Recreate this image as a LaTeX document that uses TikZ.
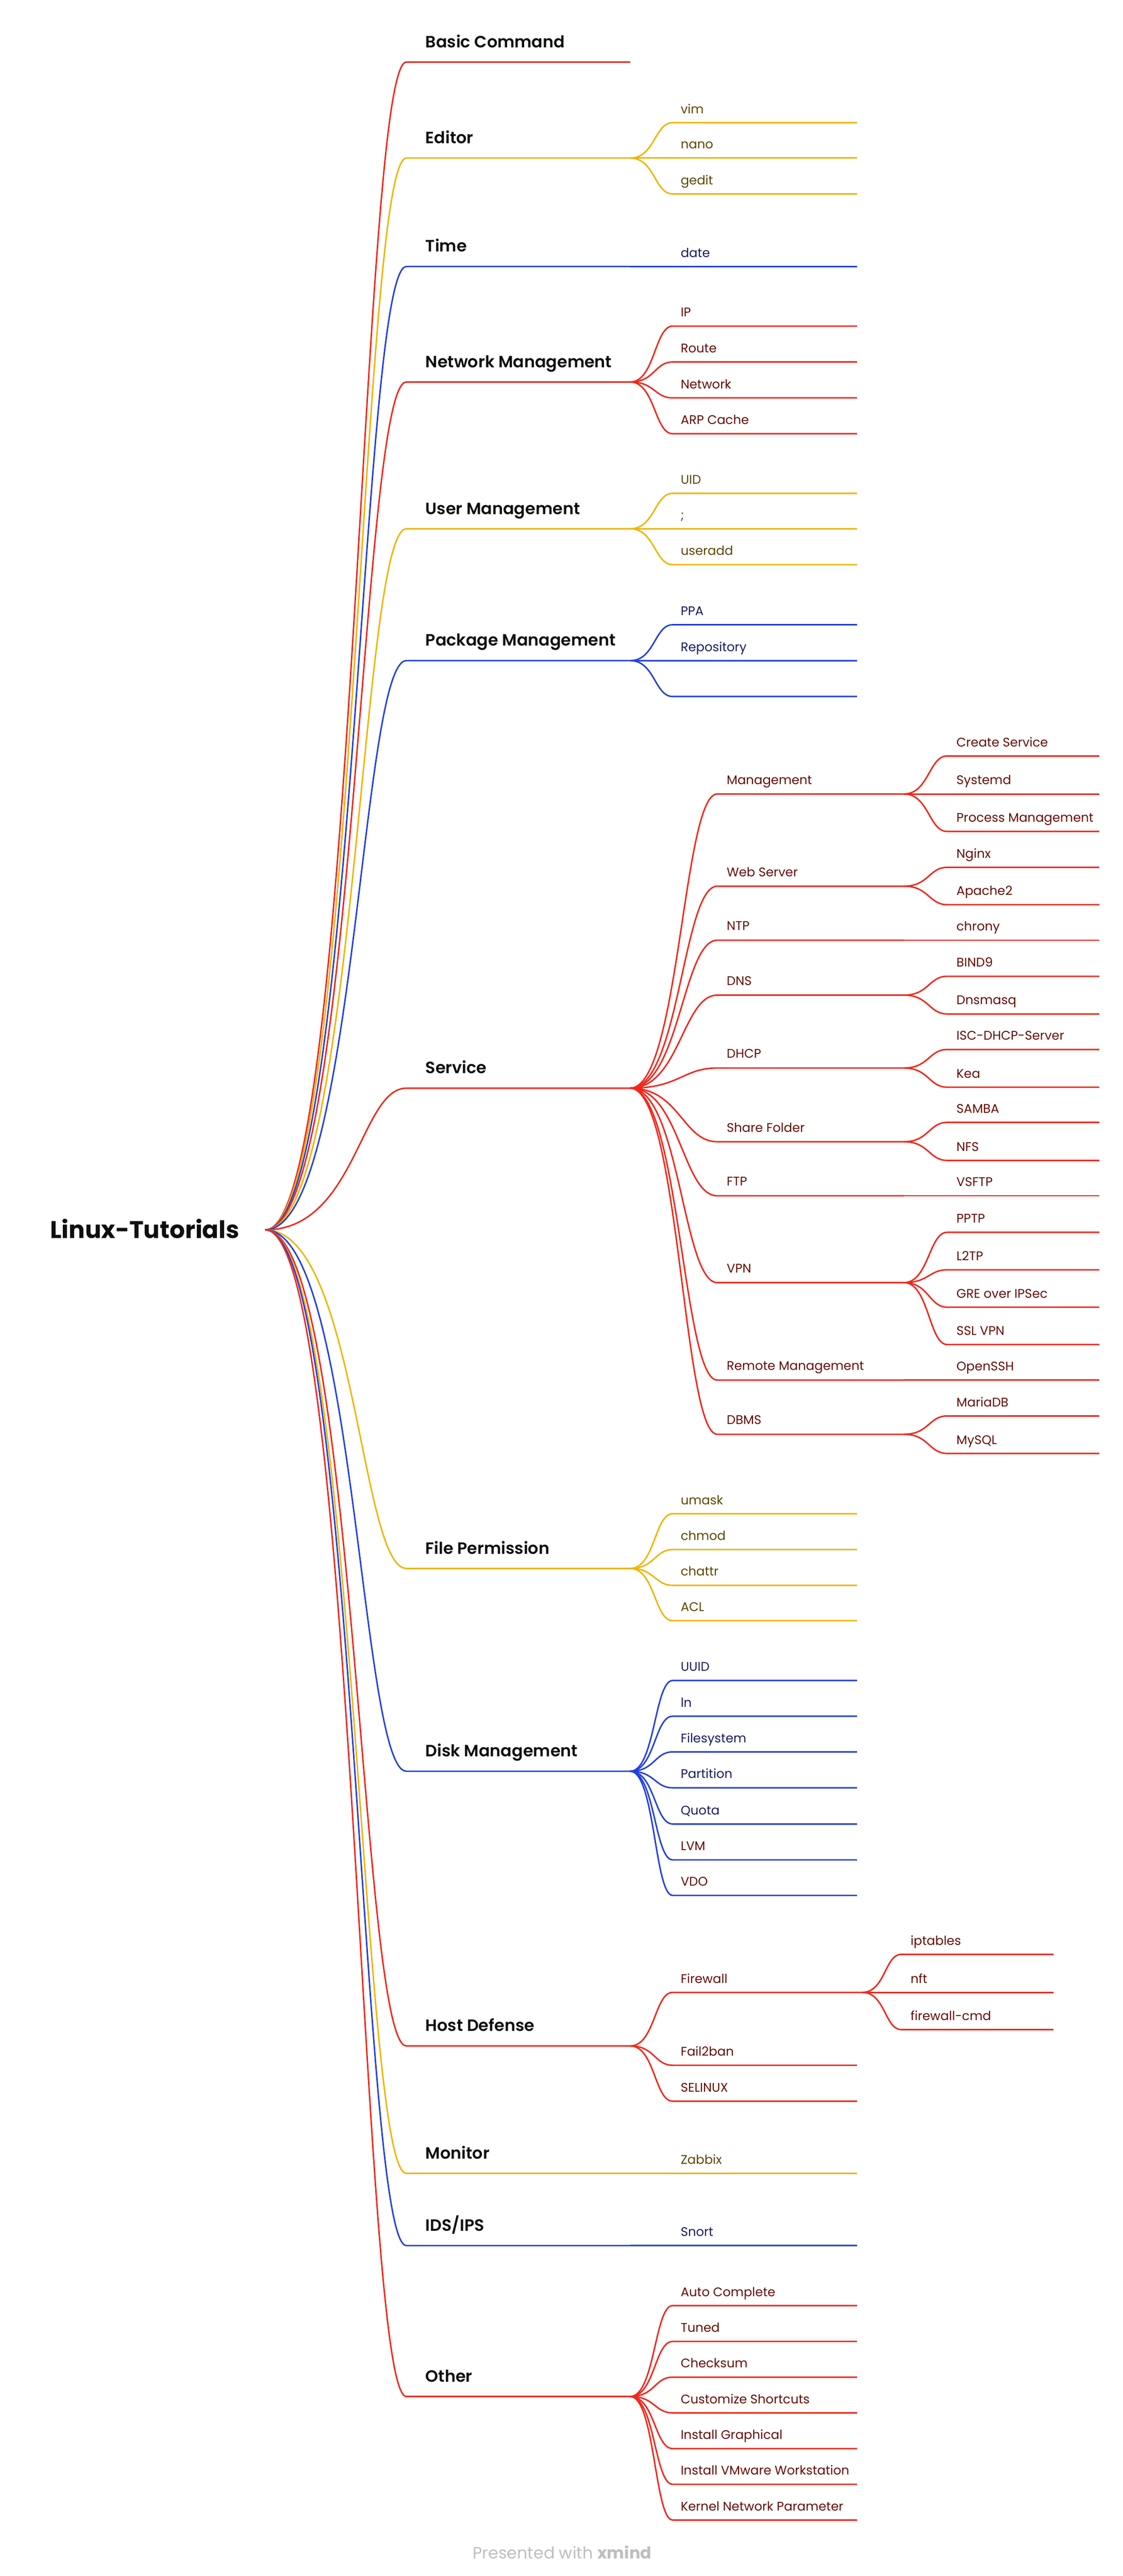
\documentclass[tikz,border=0pt]{standalone}
\usepackage{fontspec}
\setmainfont{Poppins}
\newfontfamily\topicfont{Poppins SemiBold}
\usepackage{tikz}
\usepackage{xcolor}

\definecolor{lnred}{RGB}{240,40,28}
\definecolor{lnyellow}{RGB}{240,180,0}
\definecolor{lnblue}{RGB}{36,64,220}
\definecolor{inkred}{RGB}{100,12,6}
\definecolor{inkyellow}{RGB}{92,70,0}
\definecolor{inkblue}{RGB}{22,28,96}
\definecolor{inktopic}{RGB}{15,15,15}
\definecolor{inkfoot}{RGB}{190,190,190}

\begin{document}
\begin{tikzpicture}[x=1pt, y=-1pt,
    link/.style={line width=0.9pt},
    rlink/.style={link, draw=lnred},
    ylink/.style={link, draw=lnyellow},
    blink/.style={link, draw=lnblue},
    rootlabel/.style={anchor=base west, inner sep=0pt, text=inktopic, font=\fontsize{14.7}{17}\selectfont\bfseries},
    topic/.style={anchor=base west, inner sep=0pt, text=inktopic, font=\fontsize{10}{12}\topicfont},
    leaf/.style={anchor=base west, inner sep=0pt, font=\fontsize{7.65}{9}\selectfont},
    rleaf/.style={leaf, text=inkred},
    yleaf/.style={leaf, text=inkyellow},
    bleaf/.style={leaf, text=inkblue},
    footer/.style={anchor=base, inner sep=0pt, text=inkfoot, font=\fontsize{10}{12}\selectfont}]

    % Canvas
    \useasboundingbox (0,0) rectangle (685.04,1572.6);

    % Column ends
    \coordinate (topicend) at (384.6,0);
    \coordinate (leafend) at (523,0);
    \coordinate (svcmid) at (551.7,0);
    \coordinate (svcleafend) at (670.8,0);
    \coordinate (fwmid) at (526.2,0);
    \coordinate (fwleafend) at (642.8,0);

    % Root
    \node[rootlabel] (root) at (30.5,756) {Linux-Tutorials};
    \coordinate (hub) at (161.9,750.8);

    % Basic Command
    \coordinate (basic-a) at (248,37.9);
    \node[topic] (basic) at ([shift={(11.5,-8.9)}]basic-a) {Basic Command};
    \draw[rlink] (hub) .. controls +(55,0) and +(-28,0) .. (basic-a) -- (basic-a -| topicend);

    % Editor
    \coordinate (editor-a) at (248,96.5);
    \node[topic] (editor) at ([shift={(11.5,-8.9)}]editor-a) {Editor};
    \draw[ylink] (hub) .. controls +(55,0) and +(-28,0) .. (editor-a) -- (editor-a -| topicend) coordinate (editor-j);
    \coordinate (vim-a) at (410.5,74.9);    \node[yleaf] (vim) at ([shift={(4.7,-5.7)}]vim-a) {vim};
    \coordinate (nano-a) at (410.5,96.5);   \node[yleaf] (nano) at ([shift={(4.7,-5.7)}]nano-a) {nano};
    \coordinate (gedit-a) at (410.5,118.4); \node[yleaf] (gedit) at ([shift={(4.7,-5.7)}]gedit-a) {gedit};
    \draw[ylink] (editor-j) .. controls +(15,0) and +(-11,0) .. (vim-a) -- (vim-a -| leafend);
    \draw[ylink] (editor-j) -- (nano-a) -- (nano-a -| leafend);
    \draw[ylink] (editor-j) .. controls +(15,0) and +(-11,0) .. (gedit-a) -- (gedit-a -| leafend);

    % Time
    \coordinate (time-a) at (248,162.7);
    \node[topic] (time) at ([shift={(11.5,-8.9)}]time-a) {Time};
    \draw[blink] (hub) .. controls +(55,0) and +(-28,0) .. (time-a) -- (time-a -| topicend) coordinate (time-j);
    \coordinate (date-a) at (410.5,162.7);  \node[bleaf] (date) at ([shift={(4.7,-5.7)}]date-a) {date};
    \draw[blink] (time-j) -- (date-a) -- (date-a -| leafend);

    % Network Management
    \coordinate (net-a) at (248,233.2);
    \node[topic] (net) at ([shift={(11.5,-8.9)}]net-a) {Network Management};
    \draw[rlink] (hub) .. controls +(55,0) and +(-28,0) .. (net-a) -- (net-a -| topicend) coordinate (net-j);
    \coordinate (ip-a) at (410.5,199.1);      \node[rleaf] (ip) at ([shift={(4.7,-5.7)}]ip-a) {IP};
    \coordinate (route-a) at (410.5,221);     \node[rleaf] (route) at ([shift={(4.7,-5.7)}]route-a) {Route};
    \coordinate (network-a) at (410.5,242.9); \node[rleaf] (network) at ([shift={(4.7,-5.7)}]network-a) {Network};
    \coordinate (arp-a) at (410.5,264.8);     \node[rleaf] (arp) at ([shift={(4.7,-5.7)}]arp-a) {ARP Cache};
    \draw[rlink] (net-j) .. controls +(15,0) and +(-11,0) .. (ip-a) -- (ip-a -| leafend);
    \draw[rlink] (net-j) .. controls +(15,0) and +(-11,0) .. (route-a) -- (route-a -| leafend);
    \draw[rlink] (net-j) .. controls +(15,0) and +(-11,0) .. (network-a) -- (network-a -| leafend);
    \draw[rlink] (net-j) .. controls +(15,0) and +(-11,0) .. (arp-a) -- (arp-a -| leafend);

    % User Management
    \coordinate (user-a) at (248,322.8);
    \node[topic] (user) at ([shift={(11.5,-8.9)}]user-a) {User Management};
    \draw[ylink] (hub) .. controls +(55,0) and +(-28,0) .. (user-a) -- (user-a -| topicend) coordinate (user-j);
    \coordinate (uid-a) at (410.5,301.2);     \node[yleaf] (uid) at ([shift={(4.7,-5.7)}]uid-a) {UID};
    \coordinate (semi-a) at (410.5,322.8);    \node[yleaf] (semi) at ([shift={(4.7,-5.7)}]semi-a) {;};
    \coordinate (useradd-a) at (410.5,344.7); \node[yleaf] (useradd) at ([shift={(4.7,-5.7)}]useradd-a) {useradd};
    \draw[ylink] (user-j) .. controls +(15,0) and +(-11,0) .. (uid-a) -- (uid-a -| leafend);
    \draw[ylink] (user-j) -- (semi-a) -- (semi-a -| leafend);
    \draw[ylink] (user-j) .. controls +(15,0) and +(-11,0) .. (useradd-a) -- (useradd-a -| leafend);

    % Package Management
    \coordinate (pkg-a) at (248,403.3);
    \node[topic] (pkg) at ([shift={(11.5,-8.9)}]pkg-a) {Package Management};
    \draw[blink] (hub) .. controls +(55,0) and +(-28,0) .. (pkg-a) -- (pkg-a -| topicend) coordinate (pkg-j);
    \coordinate (ppa-a) at (410.5,381.4);  \node[bleaf] (ppa) at ([shift={(4.7,-5.7)}]ppa-a) {PPA};
    \coordinate (repo-a) at (410.5,403.3); \node[bleaf] (repo) at ([shift={(4.7,-5.7)}]repo-a) {Repository};
    \coordinate (blank-a) at (410.5,425.2);
    \draw[blink] (pkg-j) .. controls +(15,0) and +(-11,0) .. (ppa-a) -- (ppa-a -| leafend);
    \draw[blink] (pkg-j) -- (repo-a) -- (repo-a -| leafend);
    \draw[blink] (pkg-j) .. controls +(15,0) and +(-11,0) .. (blank-a) -- (blank-a -| leafend);

    % Service
    \coordinate (svc-a) at (248,664.3);
    \node[topic] (svc) at ([shift={(11.5,-8.9)}]svc-a) {Service};
    \draw[rlink] (hub) .. controls +(55,0) and +(-28,0) .. (svc-a) -- (svc-a -| topicend) coordinate (svc-j);
    \coordinate (mgmt-a) at (437.7,484.7);   \node[rleaf] (mgmt) at ([shift={(5.6,-6)}]mgmt-a) {Management};
    \coordinate (web-a) at (437.7,541);      \node[rleaf] (web) at ([shift={(5.6,-6)}]web-a) {Web Server};
    \coordinate (ntp-a) at (437.7,574);      \node[rleaf] (ntp) at ([shift={(5.6,-6)}]ntp-a) {NTP};
    \coordinate (dns-a) at (437.7,607.5);    \node[rleaf] (dns) at ([shift={(5.6,-6)}]dns-a) {DNS};
    \coordinate (dhcp-a) at (437.7,652);     \node[rleaf] (dhcp) at ([shift={(5.6,-6)}]dhcp-a) {DHCP};
    \coordinate (share-a) at (437.7,697);    \node[rleaf] (share) at ([shift={(5.6,-6)}]share-a) {Share Folder};
    \coordinate (ftp-a) at (437.7,730);      \node[rleaf] (ftp) at ([shift={(5.6,-6)}]ftp-a) {FTP};
    \coordinate (vpn-a) at (437.7,783);      \node[rleaf] (vpn) at ([shift={(5.6,-6)}]vpn-a) {VPN};
    \coordinate (remote-a) at (437.7,842.5); \node[rleaf] (remote) at ([shift={(5.6,-6)}]remote-a) {Remote Management};
    \coordinate (dbms-a) at (437.7,875.6);   \node[rleaf] (dbms) at ([shift={(5.6,-6)}]dbms-a) {DBMS};
    \draw[rlink] (svc-j) .. controls +(30,0) and +(-21,0) .. (mgmt-a) -- (mgmt-a -| svcmid) coordinate (mgmt-j);
    \draw[rlink] (svc-j) .. controls +(30,0) and +(-21,0) .. (web-a) -- (web-a -| svcmid) coordinate (web-j);
    \draw[rlink] (svc-j) .. controls +(30,0) and +(-21,0) .. (ntp-a) -- (ntp-a -| svcmid) coordinate (ntp-j);
    \draw[rlink] (svc-j) .. controls +(30,0) and +(-21,0) .. (dns-a) -- (dns-a -| svcmid) coordinate (dns-j);
    \draw[rlink] (svc-j) .. controls +(30,0) and +(-21,0) .. (dhcp-a) -- (dhcp-a -| svcmid) coordinate (dhcp-j);
    \draw[rlink] (svc-j) .. controls +(30,0) and +(-21,0) .. (share-a) -- (share-a -| svcmid) coordinate (share-j);
    \draw[rlink] (svc-j) .. controls +(30,0) and +(-21,0) .. (ftp-a) -- (ftp-a -| svcmid) coordinate (ftp-j);
    \draw[rlink] (svc-j) .. controls +(30,0) and +(-21,0) .. (vpn-a) -- (vpn-a -| svcmid) coordinate (vpn-j);
    \draw[rlink] (svc-j) .. controls +(30,0) and +(-21,0) .. (remote-a) -- (remote-a -| svcmid) coordinate (remote-j);
    \draw[rlink] (svc-j) .. controls +(30,0) and +(-21,0) .. (dbms-a) -- (dbms-a -| svcmid) coordinate (dbms-j);

    % Service, third level
    \coordinate (create-a) at (578,461.5);   \node[rleaf] (create) at ([shift={(5.5,-5.7)}]create-a) {Create Service};
    \coordinate (systemd-a) at (578,484.7);  \node[rleaf] (systemd) at ([shift={(5.5,-5.7)}]systemd-a) {Systemd};
    \coordinate (process-a) at (578,507.6);  \node[rleaf] (process) at ([shift={(5.5,-5.7)}]process-a) {Process Management};
    \coordinate (nginx-a) at (578,529.5);    \node[rleaf] (nginx) at ([shift={(5.5,-5.7)}]nginx-a) {Nginx};
    \coordinate (apache-a) at (578,552.3);   \node[rleaf] (apache) at ([shift={(5.5,-5.7)}]apache-a) {Apache2};
    \coordinate (chrony-a) at (578,574);     \node[rleaf] (chrony) at ([shift={(5.5,-5.7)}]chrony-a) {chrony};
    \coordinate (bind-a) at (578,596);       \node[rleaf] (bind) at ([shift={(5.5,-5.7)}]bind-a) {BIND9};
    \coordinate (dnsmasq-a) at (578,619);    \node[rleaf] (dnsmasq) at ([shift={(5.5,-5.7)}]dnsmasq-a) {Dnsmasq};
    \coordinate (isc-a) at (578,640.7);      \node[rleaf] (isc) at ([shift={(5.5,-5.7)}]isc-a) {ISC-DHCP-Server};
    \coordinate (kea-a) at (578,663.7);      \node[rleaf] (kea) at ([shift={(5.5,-5.7)}]kea-a) {Kea};
    \coordinate (samba-a) at (578,685.2);    \node[rleaf] (samba) at ([shift={(5.5,-5.7)}]samba-a) {SAMBA};
    \coordinate (nfs-a) at (578,708.4);      \node[rleaf] (nfs) at ([shift={(5.5,-5.7)}]nfs-a) {NFS};
    \coordinate (vsftp-a) at (578,730);      \node[rleaf] (vsftp) at ([shift={(5.5,-5.7)}]vsftp-a) {VSFTP};
    \coordinate (pptp-a) at (578,752.3);     \node[rleaf] (pptp) at ([shift={(5.5,-5.7)}]pptp-a) {PPTP};
    \coordinate (l2tp-a) at (578,775.2);     \node[rleaf] (l2tp) at ([shift={(5.5,-5.7)}]l2tp-a) {L2TP};
    \coordinate (gre-a) at (578,798);        \node[rleaf] (gre) at ([shift={(5.5,-5.7)}]gre-a) {GRE over IPSec};
    \coordinate (ssl-a) at (578,820.8);      \node[rleaf] (ssl) at ([shift={(5.5,-5.7)}]ssl-a) {SSL VPN};
    \coordinate (openssh-a) at (578,842.5);  \node[rleaf] (openssh) at ([shift={(5.5,-5.7)}]openssh-a) {OpenSSH};
    \coordinate (mariadb-a) at (578,864.4);  \node[rleaf] (mariadb) at ([shift={(5.5,-5.7)}]mariadb-a) {MariaDB};
    \coordinate (mysql-a) at (578,887.3);    \node[rleaf] (mysql) at ([shift={(5.5,-5.7)}]mysql-a) {MySQL};
    \draw[rlink] (mgmt-j) .. controls +(15,0) and +(-11,0) .. (create-a) -- (create-a -| svcleafend);
    \draw[rlink] (mgmt-j) -- (systemd-a) -- (systemd-a -| svcleafend);
    \draw[rlink] (mgmt-j) .. controls +(15,0) and +(-11,0) .. (process-a) -- (process-a -| svcleafend);
    \draw[rlink] (web-j) .. controls +(15,0) and +(-11,0) .. (nginx-a) -- (nginx-a -| svcleafend);
    \draw[rlink] (web-j) .. controls +(15,0) and +(-11,0) .. (apache-a) -- (apache-a -| svcleafend);
    \draw[rlink] (ntp-j) -- (chrony-a) -- (chrony-a -| svcleafend);
    \draw[rlink] (dns-j) .. controls +(15,0) and +(-11,0) .. (bind-a) -- (bind-a -| svcleafend);
    \draw[rlink] (dns-j) .. controls +(15,0) and +(-11,0) .. (dnsmasq-a) -- (dnsmasq-a -| svcleafend);
    \draw[rlink] (dhcp-j) .. controls +(15,0) and +(-11,0) .. (isc-a) -- (isc-a -| svcleafend);
    \draw[rlink] (dhcp-j) .. controls +(15,0) and +(-11,0) .. (kea-a) -- (kea-a -| svcleafend);
    \draw[rlink] (share-j) .. controls +(15,0) and +(-11,0) .. (samba-a) -- (samba-a -| svcleafend);
    \draw[rlink] (share-j) .. controls +(15,0) and +(-11,0) .. (nfs-a) -- (nfs-a -| svcleafend);
    \draw[rlink] (ftp-j) -- (vsftp-a) -- (vsftp-a -| svcleafend);
    \draw[rlink] (vpn-j) .. controls +(15,0) and +(-11,0) .. (pptp-a) -- (pptp-a -| svcleafend);
    \draw[rlink] (vpn-j) .. controls +(15,0) and +(-11,0) .. (l2tp-a) -- (l2tp-a -| svcleafend);
    \draw[rlink] (vpn-j) .. controls +(15,0) and +(-11,0) .. (gre-a) -- (gre-a -| svcleafend);
    \draw[rlink] (vpn-j) .. controls +(15,0) and +(-11,0) .. (ssl-a) -- (ssl-a -| svcleafend);
    \draw[rlink] (remote-j) -- (openssh-a) -- (openssh-a -| svcleafend);
    \draw[rlink] (dbms-j) .. controls +(15,0) and +(-11,0) .. (mariadb-a) -- (mariadb-a -| svcleafend);
    \draw[rlink] (dbms-j) .. controls +(15,0) and +(-11,0) .. (mysql-a) -- (mysql-a -| svcleafend);

    % File Permission
    \coordinate (perm-a) at (248,957.5);
    \node[topic] (perm) at ([shift={(11.5,-8.9)}]perm-a) {File Permission};
    \draw[ylink] (hub) .. controls +(55,0) and +(-28,0) .. (perm-a) -- (perm-a -| topicend) coordinate (perm-j);
    \coordinate (umask-a) at (410.5,924.1);  \node[yleaf] (umask) at ([shift={(4.7,-5.7)}]umask-a) {umask};
    \coordinate (chmod-a) at (410.5,946);    \node[yleaf] (chmod) at ([shift={(4.7,-5.7)}]chmod-a) {chmod};
    \coordinate (chattr-a) at (410.5,967.8); \node[yleaf] (chattr) at ([shift={(4.7,-5.7)}]chattr-a) {chattr};
    \coordinate (acl-a) at (410.5,989.4);    \node[yleaf] (acl) at ([shift={(4.7,-5.7)}]acl-a) {ACL};
    \draw[ylink] (perm-j) .. controls +(15,0) and +(-11,0) .. (umask-a) -- (umask-a -| leafend);
    \draw[ylink] (perm-j) .. controls +(15,0) and +(-11,0) .. (chmod-a) -- (chmod-a -| leafend);
    \draw[ylink] (perm-j) .. controls +(15,0) and +(-11,0) .. (chattr-a) -- (chattr-a -| leafend);
    \draw[ylink] (perm-j) .. controls +(15,0) and +(-11,0) .. (acl-a) -- (acl-a -| leafend);

    % Disk Management
    \coordinate (disk-a) at (248,1081.3);
    \node[topic] (disk) at ([shift={(11.5,-8.9)}]disk-a) {Disk Management};
    \draw[blink] (hub) .. controls +(55,0) and +(-28,0) .. (disk-a) -- (disk-a -| topicend) coordinate (disk-j);
    \coordinate (uuid-a) at (410.5,1025.9);  \node[bleaf] (uuid) at ([shift={(4.7,-5.7)}]uuid-a) {UUID};
    \coordinate (ln-a) at (410.5,1047.7);    \node[bleaf] (ln) at ([shift={(4.7,-5.7)}]ln-a) {ln};
    \coordinate (fs-a) at (410.5,1069.5);    \node[bleaf] (fs) at ([shift={(4.7,-5.7)}]fs-a) {Filesystem};
    \coordinate (part-a) at (410.5,1091.4);  \node[bleaf] (part) at ([shift={(4.7,-5.7)}]part-a) {Partition};
    \coordinate (quota-a) at (410.5,1113.5); \node[bleaf] (quota) at ([shift={(4.7,-5.7)}]quota-a) {Quota};
    \coordinate (lvm-a) at (410.5,1135.4);   \node[rleaf] (lvm) at ([shift={(4.7,-5.7)}]lvm-a) {LVM};
    \coordinate (vdo-a) at (410.5,1157.1);   \node[rleaf] (vdo) at ([shift={(4.7,-5.7)}]vdo-a) {VDO};
    \draw[blink] (disk-j) .. controls +(15,0) and +(-11,0) .. (uuid-a) -- (uuid-a -| leafend);
    \draw[blink] (disk-j) .. controls +(15,0) and +(-11,0) .. (ln-a) -- (ln-a -| leafend);
    \draw[blink] (disk-j) .. controls +(15,0) and +(-11,0) .. (fs-a) -- (fs-a -| leafend);
    \draw[blink] (disk-j) .. controls +(15,0) and +(-11,0) .. (part-a) -- (part-a -| leafend);
    \draw[blink] (disk-j) .. controls +(15,0) and +(-11,0) .. (quota-a) -- (quota-a -| leafend);
    \draw[blink] (disk-j) .. controls +(15,0) and +(-11,0) .. (lvm-a) -- (lvm-a -| leafend);
    \draw[blink] (disk-j) .. controls +(15,0) and +(-11,0) .. (vdo-a) -- (vdo-a -| leafend);

    % Host Defense
    \coordinate (host-a) at (248,1249);
    \node[topic] (host) at ([shift={(11.5,-8.9)}]host-a) {Host Defense};
    \draw[rlink] (hub) .. controls +(55,0) and +(-28,0) .. (host-a) -- (host-a -| topicend) coordinate (host-j);
    \coordinate (fw-a) at (410.5,1216.3);    \node[rleaf] (fw) at ([shift={(4.7,-5.7)}]fw-a) {Firewall};
    \coordinate (f2b-a) at (410.5,1260.8);   \node[rleaf] (f2b) at ([shift={(4.7,-5.7)}]f2b-a) {Fail2ban};
    \coordinate (selinux-a) at (410.5,1282.7); \node[rleaf] (selinux) at ([shift={(4.7,-5.7)}]selinux-a) {SELINUX};
    \draw[rlink] (host-j) .. controls +(15,0) and +(-11,0) .. (fw-a) -- (fw-a -| fwmid) coordinate (fw-j);
    \draw[rlink] (host-j) .. controls +(15,0) and +(-11,0) .. (f2b-a) -- (f2b-a -| leafend);
    \draw[rlink] (host-j) .. controls +(15,0) and +(-11,0) .. (selinux-a) -- (selinux-a -| leafend);
    \coordinate (ipt-a) at (550,1193.1);     \node[rleaf] (ipt) at ([shift={(5.5,-5.7)}]ipt-a) {iptables};
    \coordinate (nft-a) at (550,1216.3);     \node[rleaf] (nft) at ([shift={(5.5,-5.7)}]nft-a) {nft};
    \coordinate (fwcmd-a) at (550,1239);     \node[rleaf] (fwcmd) at ([shift={(5.5,-5.7)}]fwcmd-a) {firewall-cmd};
    \draw[rlink] (fw-j) .. controls +(14,0) and +(-10,0) .. (ipt-a) -- (ipt-a -| fwleafend);
    \draw[rlink] (fw-j) -- (nft-a) -- (nft-a -| fwleafend);
    \draw[rlink] (fw-j) .. controls +(14,0) and +(-10,0) .. (fwcmd-a) -- (fwcmd-a -| fwleafend);

    % Monitor
    \coordinate (mon-a) at (248,1326.8);
    \node[topic] (mon) at ([shift={(11.5,-8.9)}]mon-a) {Monitor};
    \draw[ylink] (hub) .. controls +(55,0) and +(-28,0) .. (mon-a) -- (mon-a -| topicend) coordinate (mon-j);
    \coordinate (zabbix-a) at (410.5,1326.8); \node[yleaf] (zabbix) at ([shift={(4.7,-5.7)}]zabbix-a) {Zabbix};
    \draw[ylink] (mon-j) -- (zabbix-a) -- (zabbix-a -| leafend);

    % IDS/IPS
    \coordinate (ids-a) at (248,1370.9);
    \node[topic] (ids) at ([shift={(11.5,-8.9)}]ids-a) {IDS/IPS};
    \draw[blink] (hub) .. controls +(55,0) and +(-28,0) .. (ids-a) -- (ids-a -| topicend) coordinate (ids-j);
    \coordinate (snort-a) at (410.5,1370.9); \node[bleaf] (snort) at ([shift={(4.7,-5.7)}]snort-a) {Snort};
    \draw[blink] (ids-j) -- (snort-a) -- (snort-a -| leafend);

    % Other
    \coordinate (other-a) at (248,1463);
    \node[topic] (other) at ([shift={(11.5,-8.9)}]other-a) {Other};
    \draw[rlink] (hub) .. controls +(55,0) and +(-28,0) .. (other-a) -- (other-a -| topicend) coordinate (other-j);
    \coordinate (auto-a) at (410.5,1407.5);   \node[rleaf] (auto) at ([shift={(4.7,-5.7)}]auto-a) {Auto Complete};
    \coordinate (tuned-a) at (410.5,1429.4);  \node[rleaf] (tuned) at ([shift={(4.7,-5.7)}]tuned-a) {Tuned};
    \coordinate (sum-a) at (410.5,1451.2);    \node[rleaf] (sum) at ([shift={(4.7,-5.7)}]sum-a) {Checksum};
    \coordinate (short-a) at (410.5,1473);    \node[rleaf] (short) at ([shift={(4.7,-5.7)}]short-a) {Customize Shortcuts};
    \coordinate (gui-a) at (410.5,1494.8);    \node[rleaf] (gui) at ([shift={(4.7,-5.7)}]gui-a) {Install Graphical};
    \coordinate (vmware-a) at (410.5,1516.6); \node[rleaf] (vmware) at ([shift={(4.7,-5.7)}]vmware-a) {Install VMware Workstation};
    \coordinate (kernel-a) at (410.5,1538.4); \node[rleaf] (kernel) at ([shift={(4.7,-5.7)}]kernel-a) {Kernel Network Parameter};
    \draw[rlink] (other-j) .. controls +(15,0) and +(-11,0) .. (auto-a) -- (auto-a -| leafend);
    \draw[rlink] (other-j) .. controls +(15,0) and +(-11,0) .. (tuned-a) -- (tuned-a -| leafend);
    \draw[rlink] (other-j) .. controls +(15,0) and +(-11,0) .. (sum-a) -- (sum-a -| leafend);
    \draw[rlink] (other-j) .. controls +(15,0) and +(-11,0) .. (short-a) -- (short-a -| leafend);
    \draw[rlink] (other-j) .. controls +(15,0) and +(-11,0) .. (gui-a) -- (gui-a -| leafend);
    \draw[rlink] (other-j) .. controls +(15,0) and +(-11,0) .. (vmware-a) -- (vmware-a -| leafend);
    \draw[rlink] (other-j) .. controls +(15,0) and +(-11,0) .. (kernel-a) -- (kernel-a -| leafend);

    % Footer
    \node[footer] (credit) at (343,1562.2) {Presented with \textbf{xmind}};
\end{tikzpicture}
\end{document}
